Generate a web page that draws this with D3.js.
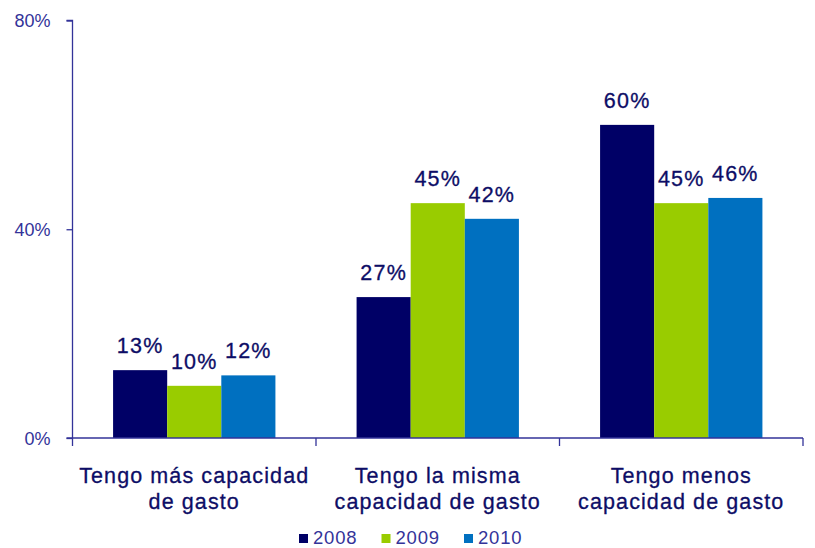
<!DOCTYPE html>
<html>
<head>
<meta charset="utf-8">
<script src="https://cdn.jsdelivr.net/npm/d3@7"></script>
<style>
  html, body { margin: 0; padding: 0; background: #fff; }
  svg { display: block; font-family: "Liberation Sans", Arial, sans-serif; }
</style>
</head>
<body>
<svg id="chart" width="815" height="548"></svg>
<script>
// ---- data ----
const categories = [
  ["Tengo más capacidad", "de gasto"],
  ["Tengo la misma", "capacidad de gasto"],
  ["Tengo menos", "capacidad de gasto"]
];
const series = ["2008", "2009", "2010"];
const values2008 = [0.13, 0.27, 0.60];
const values2009 = [0.10, 0.45, 0.45];
const values2010 = [0.12, 0.42, 0.46];
const yTicks = [0, 0.4, 0.8];
const colors = ["#000066", "#99CC00", "#0070C0"];

const valuesBySeries = [values2008, values2009, values2010];
const catKeys = categories.map((c, i) => i);

const svg = d3.select("#chart");

const x0 = d3.scaleBand().domain(catKeys).range([72.5, 803]).paddingInner(1/3).paddingOuter(1/6);
const x1 = d3.scaleBand().domain(series).range([0, x0.bandwidth()]);
const y = d3.scaleLinear().domain([0, 0.8]).range([438, 20.5]);
const color = d3.scaleOrdinal().domain(series).range(colors);

// bars
const groups = svg.append("g").selectAll("g").data(catKeys).join("g")
  .attr("transform", d => `translate(${x0(d)},0)`);

groups.selectAll("rect")
  .data(ci => series.map((s, si) => ({ s, v: valuesBySeries[si][ci] })))
  .join("rect")
  .attr("x", d => x1(d.s))
  .attr("width", x1.bandwidth())
  .attr("y", d => y(d.v))
  .attr("height", d => y(0) - y(d.v))
  .attr("fill", d => color(d.s));

// value labels
groups.selectAll("text.val")
  .data(ci => series.map((s, si) => ({ s, v: valuesBySeries[si][ci] })))
  .join("text")
  .attr("class", "val")
  .attr("x", d => x1(d.s) + x1.bandwidth() / 2)
  .attr("y", d => y(d.v) - 17)
  .attr("text-anchor", "middle")
  .attr("font-size", "21.5px")
  .attr("letter-spacing", "1.2px")
  .attr("fill", "#0d0d66")
  .attr("stroke", "#0d0d66")
  .attr("stroke-width", 0.3)
  .text(d => d3.format(".0%")(d.v));

// y axis
const yAxis = d3.axisLeft(y).tickValues(yTicks).tickFormat(d3.format(".0%"))
  .tickSize(6).tickPadding(16);
const gy = svg.append("g").attr("transform", "translate(72.5,0)").call(yAxis);
gy.select(".domain").attr("stroke", "#333399").attr("stroke-width", 1.3).attr("d", `M-6,${y(0.8)}H0V${y(0)}`);
gy.selectAll(".tick line").attr("stroke", "#333399").attr("stroke-width", 1.3);
gy.selectAll(".tick text").attr("fill", "#333399").attr("font-size", "18px")
  .attr("font-family", "'Liberation Sans', Arial, sans-serif").attr("dy", "0.35em");

// x axis line with ticks at category boundaries
const step = x0.step();
const boundaries = [0, 1, 2, 3].map(i => 72.5 + i * step);
const gx = svg.append("g");
gx.append("line").attr("x1", 66.5).attr("x2", 803).attr("y1", y(0)).attr("y2", y(0))
  .attr("stroke", "#333399").attr("stroke-width", 1.3);
gx.selectAll("line.tk").data(boundaries).join("line").attr("class", "tk")
  .attr("x1", d => d).attr("x2", d => d)
  .attr("y1", y(0)).attr("y2", y(0) + 8)
  .attr("stroke", "#333399").attr("stroke-width", 1.3);

// category labels
const catG = svg.append("g").selectAll("text").data(catKeys).join("text")
  .attr("text-anchor", "middle")
  .attr("font-size", "21.5px")
  .attr("letter-spacing", "1.1px")
  .attr("fill", "#0d0d66")
  .attr("stroke", "#0d0d66")
  .attr("stroke-width", 0.3);
catG.selectAll("tspan").data(ci => categories[ci].map(line => ({ ci, line })))
  .join("tspan")
  .attr("x", d => x0(d.ci) + x0.bandwidth() / 2)
  .attr("y", (d, i) => 483 + i * 26)
  .text(d => d.line);

// legend
const lx = d3.scalePoint().domain(series).range([299, 464]);
const leg = svg.append("g").selectAll("g").data(series).join("g")
  .attr("transform", d => `translate(${lx(d)},0)`);
leg.append("rect").attr("x", 0).attr("y", 534).attr("width", 9).attr("height", 9)
  .attr("fill", d => color(d));
leg.append("text").attr("x", 14).attr("y", 544)
  .attr("font-size", "18.5px").attr("letter-spacing", "0.8px")
  .attr("fill", "#333399").text(d => d);
</script>
</body>
</html>
